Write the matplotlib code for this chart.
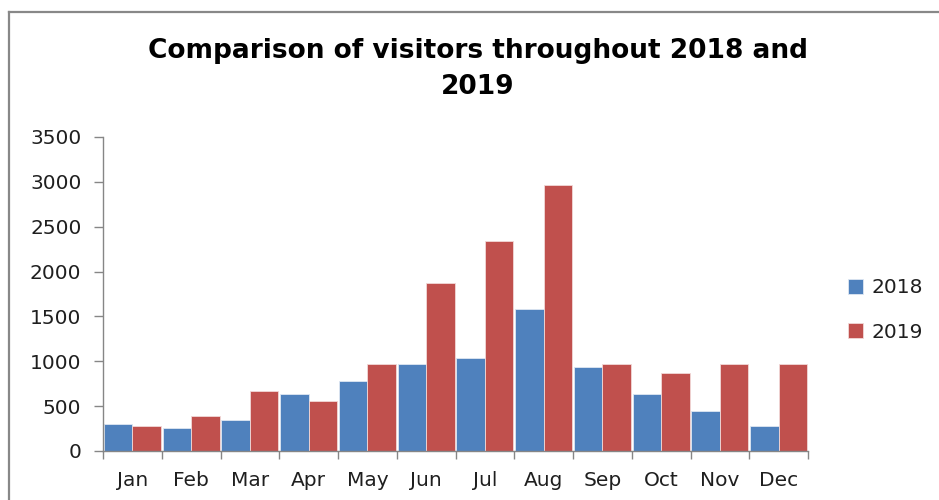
import numpy as np
import matplotlib
matplotlib.use("Agg")
import matplotlib.pyplot as plt
from matplotlib.lines import Line2D

# Monthly visitor counts
months = ["Jan", "Feb", "Mar", "Apr", "May", "Jun",
          "Jul", "Aug", "Sep", "Oct", "Nov", "Dec"]
visitors_2018 = [300, 260, 340, 640, 780, 975, 1040, 1580, 940, 630, 450, 280]
visitors_2019 = [275, 390, 670, 555, 975, 1870, 2345, 2970, 975, 865, 975, 965]
series_labels = ["2018", "2019"]
y_ticks = [0, 500, 1000, 1500, 2000, 2500, 3000, 3500]

blue = "#4F81BD"
red = "#C0504D"
axis_gray = "#868686"
text_color = "#1f1f1f"

W, H = 939, 500
fig = plt.figure(figsize=(W / 100, H / 100), dpi=100)
fig.patch.set_facecolor("white")

# Chart-area frame (top and left edges)
frame_kw = dict(color="#888888", linewidth=1.6, transform=fig.transFigure)
fig.add_artist(Line2D([8.5 / W, 1.0], [1 - 12 / H, 1 - 12 / H], **frame_kw))
fig.add_artist(Line2D([8.5 / W, 8.5 / W], [0.0, 1 - 12 / H], **frame_kw))

ax = fig.add_axes([103 / W, 1 - 451 / H, (808 - 103) / W, (451 - 137) / H])

x = np.arange(len(months))
bw = 0.485
b1 = ax.bar(x - bw / 2, visitors_2018, bw, color=blue, edgecolor="#dfe7f2",
            linewidth=0.6, label=series_labels[0], zorder=2)
b2 = ax.bar(x + bw / 2, visitors_2019, bw, color=red, edgecolor="#f1d9d8",
            linewidth=0.6, label=series_labels[1], zorder=2)

ax.set_xlim(-0.5, len(months) - 0.5)
ax.set_ylim(0, 3500)

for side in ("top", "right"):
    ax.spines[side].set_visible(False)
for side in ("left", "bottom"):
    ax.spines[side].set_color(axis_gray)
    ax.spines[side].set_linewidth(1.0)

tick_font = dict(family="DejaVu Sans", size=14.5)

ax.set_yticks(y_ticks)
ax.set_yticklabels([str(v) for v in y_ticks], fontdict=tick_font, color=text_color)
ax.tick_params(axis="y", direction="out", length=6.5, width=1.0,
               color=axis_gray, pad=9)

# Category boundaries carry the tick marks; labels sit at the centers
ax.set_xticks(np.arange(-0.5, len(months), 1.0))
ax.set_xticklabels([])
ax.set_xticks(x, minor=True)
ax.set_xticklabels(months, minor=True, fontdict=tick_font, color=text_color)
ax.tick_params(axis="x", which="major", direction="out", length=6, width=1.0,
               color=axis_gray)
ax.tick_params(axis="x", which="minor", length=0, pad=14.5)

fig.text(478 / W, 1 - 69 / H, "Comparison of visitors throughout 2018 and\n2019",
         ha="center", va="center", fontsize=19, fontweight="bold",
         family="DejaVu Sans", color="black", linespacing=1.5)

leg = fig.legend(handles=[b1, b2], labels=series_labels, loc="center left",
                 bbox_to_anchor=(848 / W, 1 - 310 / H), frameon=False,
                 prop=dict(family="DejaVu Sans", size=14.5),
                 handlelength=0.75, handleheight=0.75, handletextpad=0.4,
                 labelspacing=1.25, borderpad=0, borderaxespad=0)
for t in leg.get_texts():
    t.set_color(text_color)

fig.savefig("out.png", dpi=100, facecolor="white")
